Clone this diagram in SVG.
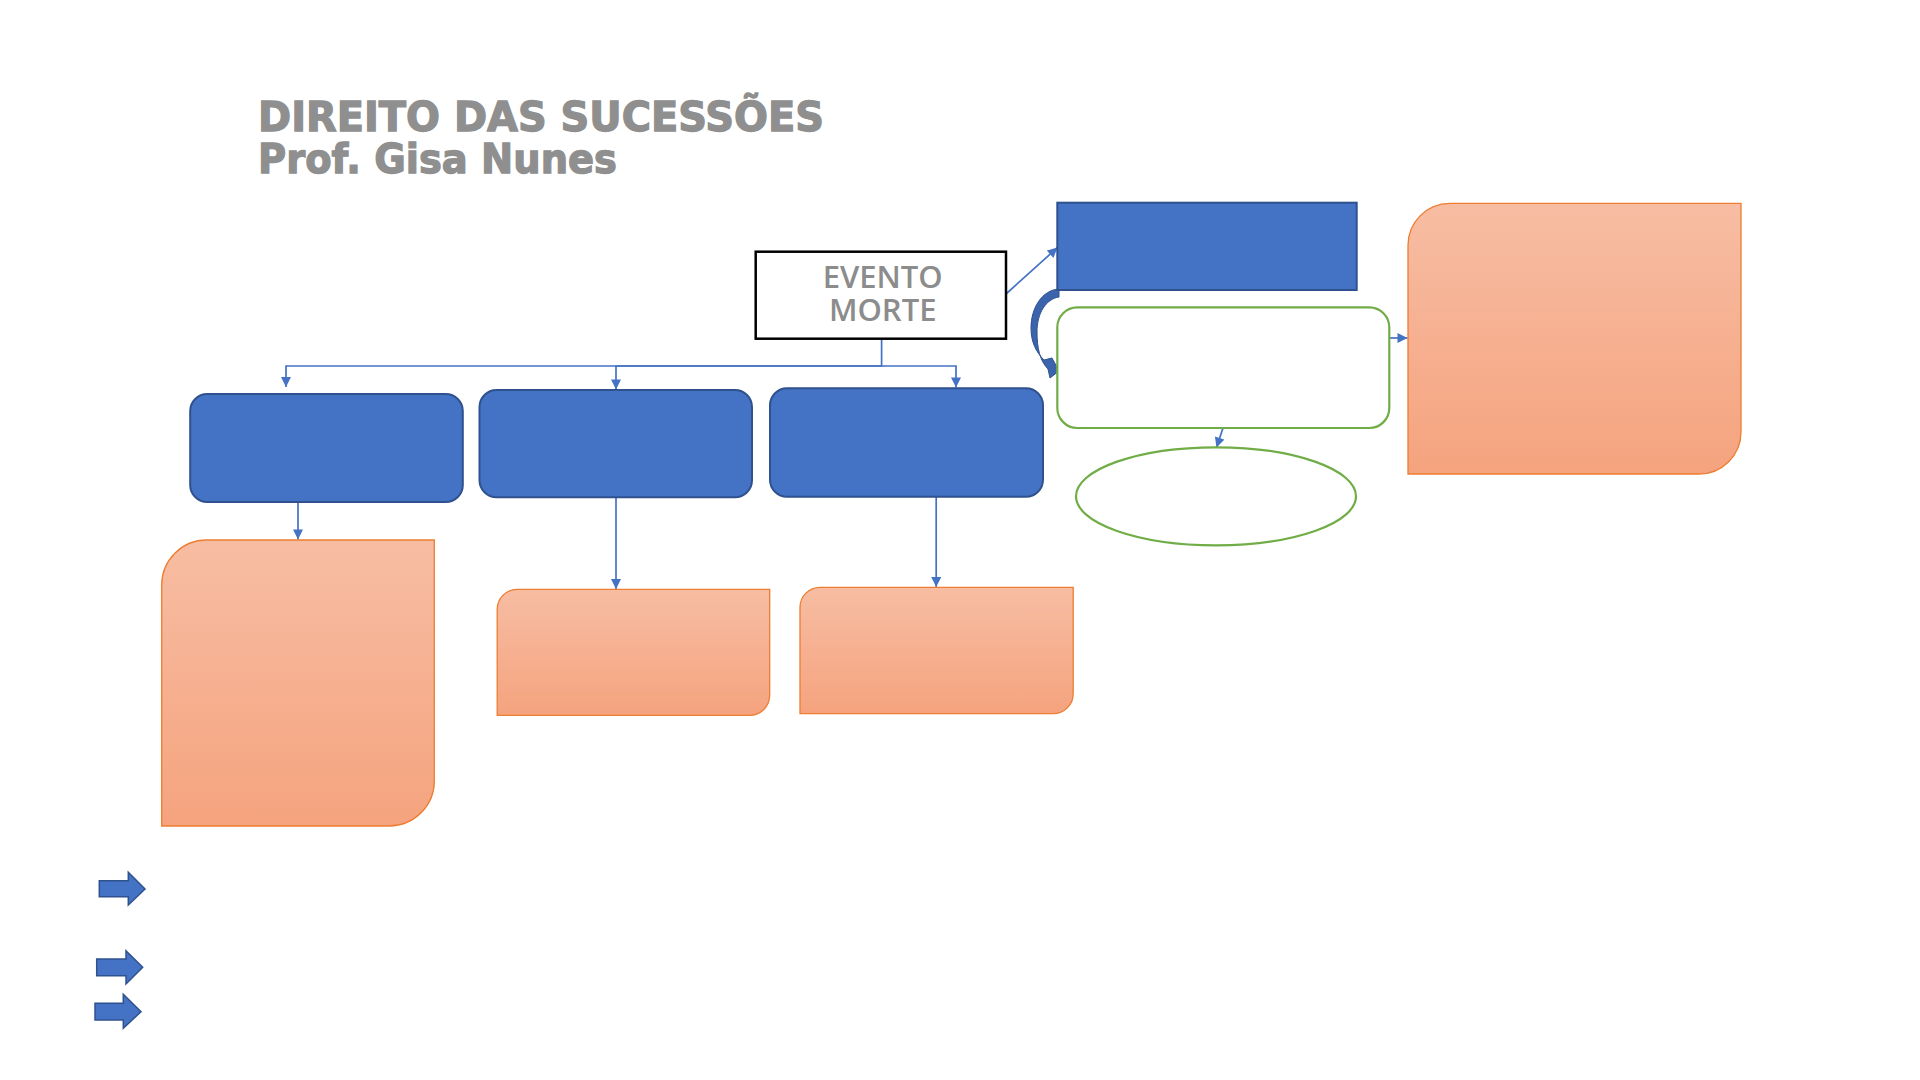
<svg xmlns="http://www.w3.org/2000/svg" width="1920" height="1080" viewBox="0 0 1920 1080">
<style>
.title{font-family:"DejaVu Sans","Liberation Sans",sans-serif;font-weight:bold;font-size:40px;fill:#8f8f8f;stroke:#8f8f8f;stroke-width:1.3}
.evt{font-family:"Open Sans","Liberation Sans",sans-serif;font-weight:600;font-size:31px;fill:#8c8c8c;text-anchor:middle}
.blue{fill:#4472c4;stroke:#2f528f;stroke-width:2}
.orange{fill:url(#og);stroke:#ed7d31;stroke-width:1.3}
.green{fill:#ffffff;stroke:#70ad47;stroke-width:2.2}
.conn{fill:none;stroke:#4472c4;stroke-width:1.7}
.barrow{fill:#4472c4;stroke:#2f528f;stroke-width:1.5}
</style>
<defs>
<linearGradient id="og" x1="0" y1="0" x2="0" y2="1">
<stop offset="0" stop-color="#f7bda3"/>
<stop offset="1" stop-color="#f5a37e"/>
</linearGradient>
<marker id="ah" viewBox="0 0 10 10" refX="10" refY="5" markerWidth="11" markerHeight="10" markerUnits="userSpaceOnUse" orient="auto">
<path d="M0,0 L10,5 L0,10 Z" fill="#4472c4"/>
</marker>
</defs>
<rect width="1920" height="1080" fill="#ffffff"/>

<g id="title">
<text class="title" x="258" y="131" textLength="566" lengthAdjust="spacingAndGlyphs">DIREITO DAS SUCESSÕES</text>
<text class="title" x="258" y="173" textLength="359" lengthAdjust="spacingAndGlyphs">Prof. Gisa Nunes</text>
</g>

<g id="connectors">
<path class="conn" d="M881.6,339 V366 H286 V387" marker-end="url(#ah)"/>
<path class="conn" d="M881.6,366 H616 V389.5" marker-end="url(#ah)"/>
<path class="conn" d="M881.6,366 H956 V387.5" marker-end="url(#ah)"/>
<path class="conn" d="M1006,294 L1057.5,247.5" marker-end="url(#ah)"/>
<path class="conn" d="M1389.5,338 H1407.5" marker-end="url(#ah)"/>
<path class="conn" d="M1223,428 L1216.5,447.5" marker-end="url(#ah)"/>
<path class="conn" d="M298,502 V539.5" marker-end="url(#ah)"/>
<path class="conn" d="M616,497.5 V589" marker-end="url(#ah)"/>
<path class="conn" d="M936.2,497 V587" marker-end="url(#ah)"/>
<path d="M1059,289 C1042,290 1031,308 1031,328 C1031,342 1036,352 1044,360 L1052,358 L1059,371 L1050,378 L1048,369 C1040,361 1037,348 1037,332 C1037,313 1046,299 1059,297 Z" fill="#3b64ad" stroke="#2f528f" stroke-width="1"/>
</g>

<g id="evento-morte">
<rect x="755.7" y="251.7" width="250.3" height="87" fill="#ffffff" stroke="#000000" stroke-width="2.5"/>
<text class="evt" x="882.7" y="287.5">EVENTO</text>
<text class="evt" x="882.7" y="321">MORTE</text>
</g>

<g id="top-blue">
<rect class="blue" x="1057.3" y="202.7" width="299.4" height="87.3"/>
</g>

<g id="green-box">
<rect class="green" x="1057.3" y="307.3" width="332" height="120.7" rx="20" ry="20"/>
</g>

<g id="green-ellipse">
<ellipse class="green" cx="1216" cy="496.3" rx="140" ry="49"/>
</g>

<g id="right-orange">
<path class="orange" d="M1408,245.3 A42,42 0 0 1 1450,203.3 H1741 V432 A42,42 0 0 1 1699,474 H1408 Z"/>
</g>

<g id="blue-box-1">
<rect class="blue" x="190.2" y="394" width="272.6" height="108" rx="17" ry="17"/>
</g>
<g id="blue-box-2">
<rect class="blue" x="479.5" y="390" width="272.5" height="107.3" rx="17" ry="17"/>
</g>
<g id="blue-box-3">
<rect class="blue" x="770" y="388.3" width="273" height="108.4" rx="17" ry="17"/>
</g>

<g id="orange-1">
<path class="orange" d="M161.7,585 A45,45 0 0 1 206.7,540 H434.3 V781 A45,45 0 0 1 389.3,826 H161.7 Z"/>
</g>
<g id="orange-2">
<path class="orange" d="M497.2,609.3 A20,20 0 0 1 517.2,589.3 H769.7 V695.3 A20,20 0 0 1 749.7,715.3 H497.2 Z"/>
</g>
<g id="orange-3">
<path class="orange" d="M800,607.3 A20,20 0 0 1 820,587.3 H1073.2 V693.7 A20,20 0 0 1 1053.2,713.7 H800 Z"/>
</g>

<g id="bullet-arrow-1">
<path class="barrow" d="M99.3,880.7 H128.3 V872.3 L145,889 L128.3,905 V896.7 H99.3 Z"/>
</g>
<g id="bullet-arrow-2">
<path class="barrow" d="M96.7,959 H126 V950.7 L142.7,967.3 L126,984 V975.7 H96.7 Z"/>
</g>
<g id="bullet-arrow-3">
<path class="barrow" d="M95,1003.3 H123.3 V994.3 L141,1011.7 L123.3,1028.3 V1020 H95 Z"/>
</g>
</svg>
